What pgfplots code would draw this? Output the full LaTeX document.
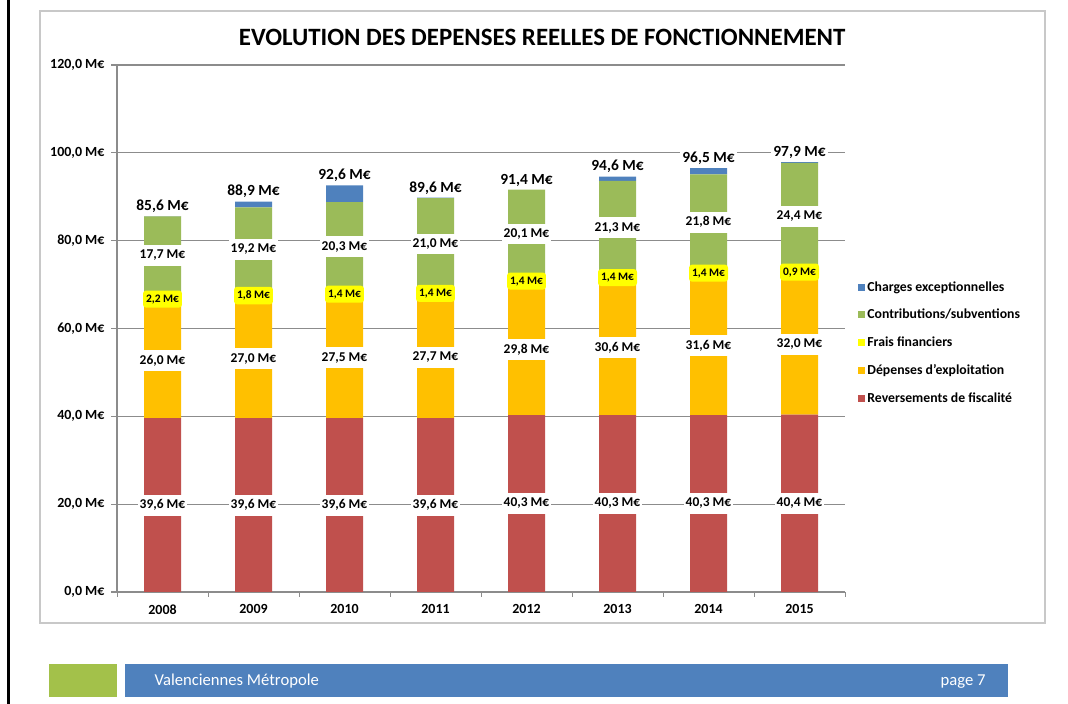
\documentclass[border=0pt]{standalone}
\usepackage{fontspec}
\setmainfont{Carlito}
\usepackage{pgfplots}
\usepackage{pgfplotstable}
\pgfplotsset{compat=1.18}

\definecolor{cRev}{HTML}{C0504D}
\definecolor{cDep}{HTML}{FFC000}
\definecolor{cFra}{HTML}{FFFF00}
\definecolor{cCon}{HTML}{9BBB59}
\definecolor{cCha}{HTML}{4F81BD}
\definecolor{gridc}{HTML}{8C8C8C}
\definecolor{framec}{HTML}{C8C8C8}
\definecolor{footgreen}{HTML}{A3C14A}
\definecolor{footblue}{HTML}{4F81BD}

% values in M EUR
\pgfplotstableread{
x year rev dep frais contrib charges total
0 2008 39.6 26.0 2.2 17.7 0.1 85.6
1 2009 39.6 27.0 1.8 19.2 1.3 88.9
2 2010 39.6 27.5 1.4 20.3 3.8 92.6
3 2011 39.6 27.7 1.4 21.0 0.1 89.6
4 2012 40.3 29.8 1.4 20.1 0.0 91.4
5 2013 40.3 30.6 1.4 21.3 1.0 94.6
6 2014 40.3 31.6 1.4 21.8 1.4 96.5
7 2015 40.4 32.0 0.9 24.4 0.2 97.9
}\data
% label heights = middle of each segment
\pgfplotstablecreatecol[create col/expr={\thisrow{rev}/2}]{mrev}\data
\pgfplotstablecreatecol[create col/expr={\thisrow{rev}+\thisrow{dep}/2}]{mdep}\data
\pgfplotstablecreatecol[create col/expr={\thisrow{rev}+\thisrow{dep}+\thisrow{frais}/2}]{mfra}\data
\pgfplotstablecreatecol[create col/expr={\thisrow{rev}+\thisrow{dep}+\thisrow{frais}+\thisrow{contrib}/2}]{mcon}\data

\newcommand\meur{\pgfmathprintnumber[fixed,fixed zerofill,precision=1,use comma]{\pgfplotspointmeta}\ M€}

\pgfplotsset{
  base/.style={
    at={(117bp,112bp)}, anchor=south west, scale only axis,
    width=728bp, height=527bp,
    xmin=-0.5, xmax=7.5, ymin=0, ymax=120,
    enlargelimits=false,
    /pgf/number format/assume math mode=true,
  },
  sq/.style={legend image code/.code={\fill[##1,draw=none] (0bp,-3.5bp) rectangle (7bp,3.5bp);}},
  lbl/.style={draw=none, point meta=explicit, nodes near coords={\meur},
    every node near coord/.append style={anchor=center, fill=white, text=black,
      inner xsep=2bp, inner ysep=5bp, font=\bfseries\fontsize{13.5}{13.5}\selectfont}},
  ylbl/.style={draw=none, point meta=explicit, nodes near coords={\meur},
    every node near coord/.append style={anchor=center, fill=cFra, text=black, rounded corners=3bp,
      inner xsep=3bp, inner ysep=4bp, font=\bfseries\fontsize{11.5}{11.5}\selectfont}},
  tlbl/.style={draw=none, point meta=explicit, nodes near coords={\meur},
    every node near coord/.append style={anchor=base, yshift=6bp, fill=white, text=black,
      inner xsep=2bp, inner ysep=2bp, font=\bfseries\fontsize{15.5}{15.5}\selectfont}},
}

\begin{document}
\begin{tikzpicture}[x=1bp,y=1bp]
\useasboundingbox (0,0) rectangle (1068,704);
\draw[black, line width=3.5bp] (8.5,0) -- (8.5,704);
\draw[framec, line width=1.5bp] (40,81) rectangle (1045,693);

\begin{axis}[base,
  ybar stacked, bar width=37bp,
  axis x line*=bottom, axis y line*=left,
  axis line style={-, draw=gridc, line width=1.2bp},
  ymajorgrids, grid style={gridc, line width=1.2bp},
  ytick={0,20,...,120},
  yticklabel={\pgfmathprintnumber[fixed,fixed zerofill,precision=1,use comma]{\tick}\ M€},
  yticklabel style={font=\bfseries\fontsize{14}{14}\selectfont, xshift=-3bp},
  xtick={0,...,7},
  xticklabels={2008,2009,2010,2011,2012,2013,2014,2015},
  xticklabel style={font=\bfseries\fontsize{14}{14}\selectfont, yshift=-3bp},
  major x tick style={draw=none},
  minor xtick={-0.5,0.5,...,7.5},
  minor x tick style={gridc, line width=1bp},
  y tick style={gridc, line width=1.2bp},
  tick align=outside, major tick length=6bp, minor tick length=5bp,
  title={EVOLUTION DES DEPENSES REELLES DE FONCTIONNEMENT},
  title style={at={(0.584,1)}, anchor=base, yshift=14bp, font=\bfseries\fontsize{25}{25}\selectfont},
  reverse legend,
  legend cell align=left,
  legend style={at={(1.014,0.597)}, anchor=north west, draw=none, fill=none,
    font=\bfseries\fontsize{13.8}{13.8}\selectfont, row sep=12.6bp,
    nodes={inner xsep=2bp}},
]
\addplot[sq, fill=cRev, draw=none] table[x=x,y=rev]{\data};
\addplot[sq, fill=cDep, draw=none] table[x=x,y=dep]{\data};
\addplot[sq, fill=cFra, draw=none] table[x=x,y=frais]{\data};
\addplot[sq, fill=cCon, draw=none] table[x=x,y=contrib]{\data};
\addplot[sq, fill=cCha, draw=none] table[x=x,y=charges]{\data};
\legend{Reversements de fiscalité,Dépenses d'exploitation,Frais financiers,Contributions/subventions,Charges exceptionnelles}
\end{axis}

\begin{axis}[base, hide axis]
\addplot[lbl] table[x=x,y=mrev,meta=rev]{\data};
\addplot[lbl] table[x=x,y=mdep,meta=dep]{\data};
\addplot[lbl] table[x=x,y=mcon,meta=contrib]{\data};
\addplot[ylbl] table[x=x,y=mfra,meta=frais]{\data};
\addplot[tlbl] table[x=x,y=total,meta=total]{\data};
\end{axis}

\fill[footgreen] (49,7) rectangle (117,40);
\fill[footblue] (125,7) rectangle (1008,40);
\node[anchor=base west, text=white, font=\fontsize{16.7}{16.7}\selectfont] at (151,18) {Valenciennes Métropole};
\node[anchor=base east, text=white, font=\fontsize{16.7}{16.7}\selectfont] at (989,18) {page 7};
\end{tikzpicture}
\end{document}
